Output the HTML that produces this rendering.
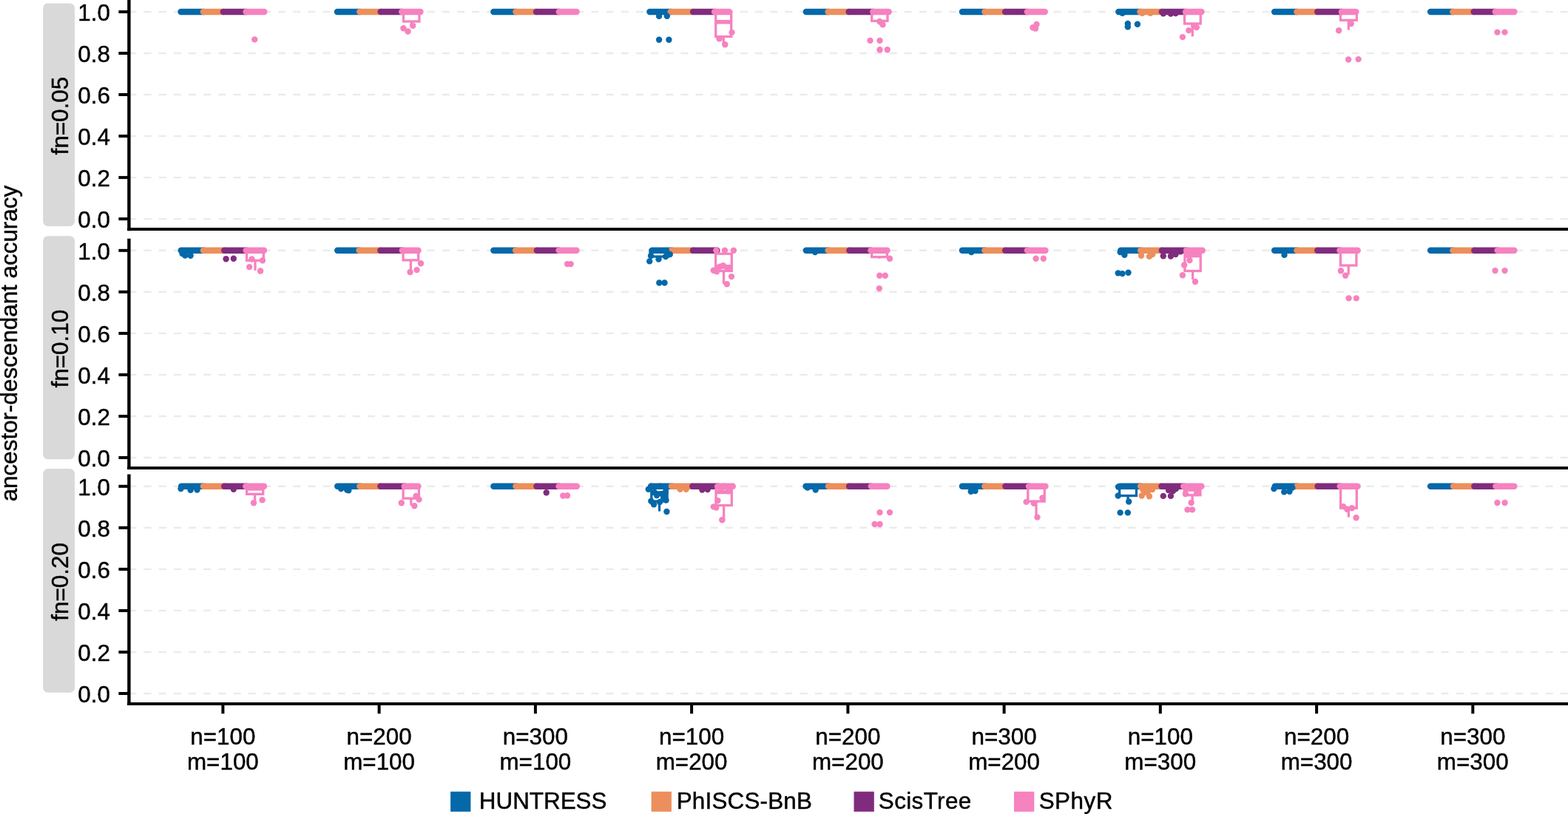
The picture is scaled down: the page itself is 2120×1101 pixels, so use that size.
<!DOCTYPE html><html><head><meta charset="utf-8"><title>ancestor-descendant accuracy</title>
<style>html,body{margin:0;padding:0;background:#fff;overflow:hidden}svg{display:block}text{font-family:"Liberation Sans", Arial, Helvetica, sans-serif;fill:#000;stroke:#000;stroke-width:0.45px}</style></head><body>
<svg width="2120" height="1101" viewBox="0 0 2120 1101">
<rect x="0" y="0" width="2120" height="1101" fill="#fff"/>
<text transform="translate(22.7,464.6) rotate(-90)" text-anchor="middle" font-size="31.4">ancestor-descendant accuracy</text>
<rect x="58.2" y="4.4" width="42.8" height="301.5" rx="6.5" ry="6.5" fill="#d9d9d9"/>
<text transform="translate(91.9,156.6) rotate(-90)" text-anchor="middle" font-size="31.4">fn=0.05</text>
<line x1="174.4" y1="296.1" x2="2120" y2="296.1" stroke="#ebebeb" stroke-width="2.4" stroke-dasharray="10.08 10.08"/>
<line x1="174.4" y1="240.1" x2="2120" y2="240.1" stroke="#ebebeb" stroke-width="2.4" stroke-dasharray="10.08 10.08"/>
<line x1="174.4" y1="184.1" x2="2120" y2="184.1" stroke="#ebebeb" stroke-width="2.4" stroke-dasharray="10.08 10.08"/>
<line x1="174.4" y1="128.0" x2="2120" y2="128.0" stroke="#ebebeb" stroke-width="2.4" stroke-dasharray="10.08 10.08"/>
<line x1="174.4" y1="72.0" x2="2120" y2="72.0" stroke="#ebebeb" stroke-width="2.4" stroke-dasharray="10.08 10.08"/>
<line x1="174.4" y1="16.0" x2="2120" y2="16.0" stroke="#ebebeb" stroke-width="2.4" stroke-dasharray="10.08 10.08"/>
<line x1="160.4" y1="296.1" x2="174.4" y2="296.1" stroke="#000" stroke-width="4"/>
<text x="148.9" y="307.9" text-anchor="end" font-size="31.4">0.0</text>
<line x1="160.4" y1="240.1" x2="174.4" y2="240.1" stroke="#000" stroke-width="4"/>
<text x="148.9" y="251.9" text-anchor="end" font-size="31.4">0.2</text>
<line x1="160.4" y1="184.1" x2="174.4" y2="184.1" stroke="#000" stroke-width="4"/>
<text x="148.9" y="195.9" text-anchor="end" font-size="31.4">0.4</text>
<line x1="160.4" y1="128.0" x2="174.4" y2="128.0" stroke="#000" stroke-width="4"/>
<text x="148.9" y="139.8" text-anchor="end" font-size="31.4">0.6</text>
<line x1="160.4" y1="72.0" x2="174.4" y2="72.0" stroke="#000" stroke-width="4"/>
<text x="148.9" y="83.8" text-anchor="end" font-size="31.4">0.8</text>
<line x1="160.4" y1="16.0" x2="174.4" y2="16.0" stroke="#000" stroke-width="4"/>
<text x="148.9" y="27.8" text-anchor="end" font-size="31.4">1.0</text>
<rect x="58.2" y="319.2" width="42.8" height="302.0" rx="6.5" ry="6.5" fill="#d9d9d9"/>
<text transform="translate(91.9,471.7) rotate(-90)" text-anchor="middle" font-size="31.4">fn=0.10</text>
<line x1="174.4" y1="619.0" x2="2120" y2="619.0" stroke="#ebebeb" stroke-width="2.4" stroke-dasharray="10.08 10.08"/>
<line x1="174.4" y1="563.0" x2="2120" y2="563.0" stroke="#ebebeb" stroke-width="2.4" stroke-dasharray="10.08 10.08"/>
<line x1="174.4" y1="506.9" x2="2120" y2="506.9" stroke="#ebebeb" stroke-width="2.4" stroke-dasharray="10.08 10.08"/>
<line x1="174.4" y1="450.9" x2="2120" y2="450.9" stroke="#ebebeb" stroke-width="2.4" stroke-dasharray="10.08 10.08"/>
<line x1="174.4" y1="394.8" x2="2120" y2="394.8" stroke="#ebebeb" stroke-width="2.4" stroke-dasharray="10.08 10.08"/>
<line x1="174.4" y1="338.8" x2="2120" y2="338.8" stroke="#ebebeb" stroke-width="2.4" stroke-dasharray="10.08 10.08"/>
<line x1="160.4" y1="619.0" x2="174.4" y2="619.0" stroke="#000" stroke-width="4"/>
<text x="148.9" y="630.8" text-anchor="end" font-size="31.4">0.0</text>
<line x1="160.4" y1="563.0" x2="174.4" y2="563.0" stroke="#000" stroke-width="4"/>
<text x="148.9" y="574.8" text-anchor="end" font-size="31.4">0.2</text>
<line x1="160.4" y1="506.9" x2="174.4" y2="506.9" stroke="#000" stroke-width="4"/>
<text x="148.9" y="518.7" text-anchor="end" font-size="31.4">0.4</text>
<line x1="160.4" y1="450.9" x2="174.4" y2="450.9" stroke="#000" stroke-width="4"/>
<text x="148.9" y="462.7" text-anchor="end" font-size="31.4">0.6</text>
<line x1="160.4" y1="394.8" x2="174.4" y2="394.8" stroke="#000" stroke-width="4"/>
<text x="148.9" y="406.6" text-anchor="end" font-size="31.4">0.8</text>
<line x1="160.4" y1="338.8" x2="174.4" y2="338.8" stroke="#000" stroke-width="4"/>
<text x="148.9" y="350.6" text-anchor="end" font-size="31.4">1.0</text>
<rect x="58.2" y="634.0" width="42.8" height="302.7" rx="6.5" ry="6.5" fill="#d9d9d9"/>
<text transform="translate(91.9,786.9) rotate(-90)" text-anchor="middle" font-size="31.4">fn=0.20</text>
<line x1="174.4" y1="938.0" x2="2120" y2="938.0" stroke="#ebebeb" stroke-width="2.4" stroke-dasharray="10.08 10.08"/>
<line x1="174.4" y1="882.0" x2="2120" y2="882.0" stroke="#ebebeb" stroke-width="2.4" stroke-dasharray="10.08 10.08"/>
<line x1="174.4" y1="825.9" x2="2120" y2="825.9" stroke="#ebebeb" stroke-width="2.4" stroke-dasharray="10.08 10.08"/>
<line x1="174.4" y1="769.9" x2="2120" y2="769.9" stroke="#ebebeb" stroke-width="2.4" stroke-dasharray="10.08 10.08"/>
<line x1="174.4" y1="713.8" x2="2120" y2="713.8" stroke="#ebebeb" stroke-width="2.4" stroke-dasharray="10.08 10.08"/>
<line x1="174.4" y1="657.8" x2="2120" y2="657.8" stroke="#ebebeb" stroke-width="2.4" stroke-dasharray="10.08 10.08"/>
<line x1="160.4" y1="938.0" x2="174.4" y2="938.0" stroke="#000" stroke-width="4"/>
<text x="148.9" y="949.8" text-anchor="end" font-size="31.4">0.0</text>
<line x1="160.4" y1="882.0" x2="174.4" y2="882.0" stroke="#000" stroke-width="4"/>
<text x="148.9" y="893.8" text-anchor="end" font-size="31.4">0.2</text>
<line x1="160.4" y1="825.9" x2="174.4" y2="825.9" stroke="#000" stroke-width="4"/>
<text x="148.9" y="837.7" text-anchor="end" font-size="31.4">0.4</text>
<line x1="160.4" y1="769.9" x2="174.4" y2="769.9" stroke="#000" stroke-width="4"/>
<text x="148.9" y="781.7" text-anchor="end" font-size="31.4">0.6</text>
<line x1="160.4" y1="713.8" x2="174.4" y2="713.8" stroke="#000" stroke-width="4"/>
<text x="148.9" y="725.6" text-anchor="end" font-size="31.4">0.8</text>
<line x1="160.4" y1="657.8" x2="174.4" y2="657.8" stroke="#000" stroke-width="4"/>
<text x="148.9" y="669.6" text-anchor="end" font-size="31.4">1.0</text>
<line x1="244.5" y1="16.0" x2="275.4" y2="16.0" stroke="#0468a9" stroke-width="8.4" stroke-linecap="round"/>
<line x1="274.9" y1="16.0" x2="302.3" y2="16.0" stroke="#ec8f5c" stroke-width="8.4" stroke-linecap="round"/>
<line x1="301.8" y1="16.0" x2="333.1" y2="16.0" stroke="#802c7e" stroke-width="8.4" stroke-linecap="round"/>
<line x1="332.6" y1="16.0" x2="357.4" y2="16.0" stroke="#f682bf" stroke-width="8.4" stroke-linecap="round"/>
<circle cx="344.3" cy="53.4" r="4.2" fill="#f682bf"/>
<line x1="455.9" y1="16.0" x2="486.8" y2="16.0" stroke="#0468a9" stroke-width="8.4" stroke-linecap="round"/>
<line x1="486.3" y1="16.0" x2="515.1" y2="16.0" stroke="#ec8f5c" stroke-width="8.4" stroke-linecap="round"/>
<line x1="514.6" y1="16.0" x2="543.7" y2="16.0" stroke="#802c7e" stroke-width="8.4" stroke-linecap="round"/>
<line x1="543.2" y1="16.0" x2="568.5" y2="16.0" stroke="#f682bf" stroke-width="8.4" stroke-linecap="round"/>
<line x1="556.2" y1="29.0" x2="556.2" y2="34.7" stroke="#f682bf" stroke-width="3.3"/>
<rect x="545.5" y="16.0" width="21.4" height="13.0" fill="none" stroke="#f682bf" stroke-width="3.3"/>
<circle cx="545.4" cy="38.2" r="4.2" fill="#f682bf"/>
<circle cx="551.5" cy="42.5" r="4.2" fill="#f682bf"/>
<circle cx="558.2" cy="34.7" r="4.2" fill="#f682bf"/>
<line x1="667.3" y1="16.0" x2="697.9" y2="16.0" stroke="#0468a9" stroke-width="8.4" stroke-linecap="round"/>
<line x1="697.4" y1="16.0" x2="725.5" y2="16.0" stroke="#ec8f5c" stroke-width="8.4" stroke-linecap="round"/>
<line x1="725.0" y1="16.0" x2="756.3" y2="16.0" stroke="#802c7e" stroke-width="8.4" stroke-linecap="round"/>
<line x1="755.8" y1="16.0" x2="779.6" y2="16.0" stroke="#f682bf" stroke-width="8.4" stroke-linecap="round"/>
<line x1="878.4" y1="16.0" x2="907.2" y2="16.0" stroke="#0468a9" stroke-width="8.4" stroke-linecap="round"/>
<line x1="906.7" y1="16.0" x2="937.6" y2="16.0" stroke="#ec8f5c" stroke-width="8.4" stroke-linecap="round"/>
<line x1="937.1" y1="16.0" x2="966.6" y2="16.0" stroke="#802c7e" stroke-width="8.4" stroke-linecap="round"/>
<line x1="966.1" y1="16.0" x2="986.0" y2="16.0" stroke="#f682bf" stroke-width="8.4" stroke-linecap="round"/>
<line x1="978.2" y1="49.5" x2="978.2" y2="60.2" stroke="#f682bf" stroke-width="3.3"/>
<rect x="967.7" y="16.0" width="21.0" height="33.5" fill="none" stroke="#f682bf" stroke-width="3.3"/>
<line x1="967.7" y1="29.7" x2="988.7" y2="29.7" stroke="#f682bf" stroke-width="5.6"/>
<circle cx="891.1" cy="21.9" r="4.2" fill="#0468a9"/>
<circle cx="901.8" cy="21.7" r="4.2" fill="#0468a9"/>
<circle cx="891.1" cy="53.8" r="4.2" fill="#0468a9"/>
<circle cx="904.4" cy="53.8" r="4.2" fill="#0468a9"/>
<circle cx="989.5" cy="43.9" r="4.2" fill="#f682bf"/>
<circle cx="972.5" cy="52.4" r="4.2" fill="#f682bf"/>
<circle cx="980.3" cy="60.2" r="4.2" fill="#f682bf"/>
<line x1="1089.8" y1="16.0" x2="1120.1" y2="16.0" stroke="#0468a9" stroke-width="8.4" stroke-linecap="round"/>
<line x1="1119.6" y1="16.0" x2="1148.1" y2="16.0" stroke="#ec8f5c" stroke-width="8.4" stroke-linecap="round"/>
<line x1="1147.6" y1="16.0" x2="1180.8" y2="16.0" stroke="#802c7e" stroke-width="8.4" stroke-linecap="round"/>
<line x1="1180.3" y1="16.0" x2="1201.7" y2="16.0" stroke="#f682bf" stroke-width="8.4" stroke-linecap="round"/>
<line x1="1189.3" y1="28.3" x2="1189.3" y2="33.4" stroke="#f682bf" stroke-width="3.3"/>
<rect x="1178.7" y="16.0" width="21.3" height="12.3" fill="none" stroke="#f682bf" stroke-width="3.3"/>
<circle cx="1193.5" cy="33.4" r="4.2" fill="#f682bf"/>
<circle cx="1189.2" cy="29.0" r="4.2" fill="#f682bf"/>
<circle cx="1176.5" cy="54.9" r="4.2" fill="#f682bf"/>
<circle cx="1189.5" cy="54.9" r="4.2" fill="#f682bf"/>
<circle cx="1189.5" cy="67.2" r="4.2" fill="#f682bf"/>
<circle cx="1199.7" cy="67.2" r="4.2" fill="#f682bf"/>
<line x1="1300.9" y1="16.0" x2="1331.9" y2="16.0" stroke="#0468a9" stroke-width="8.4" stroke-linecap="round"/>
<line x1="1331.4" y1="16.0" x2="1359.6" y2="16.0" stroke="#ec8f5c" stroke-width="8.4" stroke-linecap="round"/>
<line x1="1359.1" y1="16.0" x2="1389.4" y2="16.0" stroke="#802c7e" stroke-width="8.4" stroke-linecap="round"/>
<line x1="1388.9" y1="16.0" x2="1412.8" y2="16.0" stroke="#f682bf" stroke-width="8.4" stroke-linecap="round"/>
<circle cx="1396.5" cy="37.3" r="4.2" fill="#f682bf"/>
<circle cx="1401.5" cy="33.0" r="4.2" fill="#f682bf"/>
<circle cx="1400.0" cy="38.5" r="4.2" fill="#f682bf"/>
<line x1="1512.3" y1="16.0" x2="1541.9" y2="16.0" stroke="#0468a9" stroke-width="8.4" stroke-linecap="round"/>
<line x1="1541.4" y1="16.0" x2="1571.3" y2="16.0" stroke="#ec8f5c" stroke-width="8.4" stroke-linecap="round"/>
<line x1="1570.8" y1="16.0" x2="1603.6" y2="16.0" stroke="#802c7e" stroke-width="8.4" stroke-linecap="round"/>
<line x1="1603.1" y1="16.0" x2="1624.5" y2="16.0" stroke="#f682bf" stroke-width="8.4" stroke-linecap="round"/>
<line x1="1612.3" y1="32.0" x2="1612.3" y2="49.4" stroke="#f682bf" stroke-width="3.3"/>
<rect x="1601.5" y="16.0" width="21.7" height="16.0" fill="none" stroke="#f682bf" stroke-width="3.3"/>
<circle cx="1517.5" cy="17.8" r="4.2" fill="#0468a9"/>
<circle cx="1524.8" cy="32.0" r="4.2" fill="#0468a9"/>
<circle cx="1524.8" cy="36.3" r="4.2" fill="#0468a9"/>
<circle cx="1537.9" cy="32.7" r="4.2" fill="#0468a9"/>
<circle cx="1544.4" cy="17.8" r="4.2" fill="#ec8f5c"/>
<circle cx="1555.3" cy="17.8" r="4.2" fill="#ec8f5c"/>
<circle cx="1572.8" cy="18.3" r="4.2" fill="#802c7e"/>
<circle cx="1582.9" cy="18.5" r="4.2" fill="#802c7e"/>
<circle cx="1589.5" cy="18.0" r="4.2" fill="#802c7e"/>
<circle cx="1607.3" cy="41.1" r="4.2" fill="#f682bf"/>
<circle cx="1617.8" cy="37.1" r="4.2" fill="#f682bf"/>
<circle cx="1614.2" cy="34.9" r="4.2" fill="#f682bf"/>
<circle cx="1598.9" cy="50.1" r="4.2" fill="#f682bf"/>
<line x1="1723.1" y1="16.0" x2="1753.9" y2="16.0" stroke="#0468a9" stroke-width="8.4" stroke-linecap="round"/>
<line x1="1753.4" y1="16.0" x2="1781.7" y2="16.0" stroke="#ec8f5c" stroke-width="8.4" stroke-linecap="round"/>
<line x1="1781.2" y1="16.0" x2="1814.4" y2="16.0" stroke="#802c7e" stroke-width="8.4" stroke-linecap="round"/>
<line x1="1813.9" y1="16.0" x2="1833.3" y2="16.0" stroke="#f682bf" stroke-width="8.4" stroke-linecap="round"/>
<line x1="1823.3" y1="27.3" x2="1823.3" y2="40.5" stroke="#f682bf" stroke-width="3.3"/>
<rect x="1812.4" y="16.0" width="21.9" height="11.3" fill="none" stroke="#f682bf" stroke-width="3.3"/>
<circle cx="1810.1" cy="41.3" r="4.2" fill="#f682bf"/>
<circle cx="1826.8" cy="32.0" r="4.2" fill="#f682bf"/>
<circle cx="1823.1" cy="80.5" r="4.2" fill="#f682bf"/>
<circle cx="1836.6" cy="80.1" r="4.2" fill="#f682bf"/>
<line x1="1934.1" y1="16.0" x2="1964.8" y2="16.0" stroke="#0468a9" stroke-width="8.4" stroke-linecap="round"/>
<line x1="1964.3" y1="16.0" x2="1993.1" y2="16.0" stroke="#ec8f5c" stroke-width="8.4" stroke-linecap="round"/>
<line x1="1992.6" y1="16.0" x2="2022.2" y2="16.0" stroke="#802c7e" stroke-width="8.4" stroke-linecap="round"/>
<line x1="2021.7" y1="16.0" x2="2047.4" y2="16.0" stroke="#f682bf" stroke-width="8.4" stroke-linecap="round"/>
<circle cx="2024.4" cy="43.6" r="4.2" fill="#f682bf"/>
<circle cx="2034.5" cy="43.6" r="4.2" fill="#f682bf"/>
<line x1="244.7" y1="338.8" x2="275.4" y2="338.8" stroke="#0468a9" stroke-width="8.4" stroke-linecap="round"/>
<line x1="274.9" y1="338.8" x2="303.7" y2="338.8" stroke="#ec8f5c" stroke-width="8.4" stroke-linecap="round"/>
<line x1="303.2" y1="338.8" x2="333.2" y2="338.8" stroke="#802c7e" stroke-width="8.4" stroke-linecap="round"/>
<line x1="332.7" y1="338.8" x2="357.0" y2="338.8" stroke="#f682bf" stroke-width="8.4" stroke-linecap="round"/>
<line x1="345.0" y1="352.3" x2="345.0" y2="365.8" stroke="#f682bf" stroke-width="3.3"/>
<rect x="333.6" y="338.8" width="22.8" height="13.5" fill="none" stroke="#f682bf" stroke-width="3.3"/>
<circle cx="246.5" cy="343.0" r="4.2" fill="#0468a9"/>
<circle cx="250.3" cy="345.6" r="4.2" fill="#0468a9"/>
<circle cx="257.6" cy="345.8" r="4.2" fill="#0468a9"/>
<circle cx="305.6" cy="350.2" r="4.2" fill="#802c7e"/>
<circle cx="315.8" cy="349.8" r="4.2" fill="#802c7e"/>
<circle cx="340.5" cy="350.5" r="4.2" fill="#f682bf"/>
<circle cx="355.0" cy="352.3" r="4.2" fill="#f682bf"/>
<circle cx="337.2" cy="361.1" r="4.2" fill="#f682bf"/>
<circle cx="352.1" cy="366.5" r="4.2" fill="#f682bf"/>
<line x1="456.2" y1="338.8" x2="486.1" y2="338.8" stroke="#0468a9" stroke-width="8.4" stroke-linecap="round"/>
<line x1="485.6" y1="338.8" x2="514.8" y2="338.8" stroke="#ec8f5c" stroke-width="8.4" stroke-linecap="round"/>
<line x1="514.3" y1="338.8" x2="544.3" y2="338.8" stroke="#802c7e" stroke-width="8.4" stroke-linecap="round"/>
<line x1="543.8" y1="338.8" x2="565.5" y2="338.8" stroke="#f682bf" stroke-width="8.4" stroke-linecap="round"/>
<line x1="555.4" y1="351.9" x2="555.4" y2="369.4" stroke="#f682bf" stroke-width="3.3"/>
<rect x="545.1" y="338.8" width="20.6" height="13.1" fill="none" stroke="#f682bf" stroke-width="3.3"/>
<circle cx="554.5" cy="368.0" r="4.2" fill="#f682bf"/>
<circle cx="563.5" cy="365.1" r="4.2" fill="#f682bf"/>
<circle cx="569.0" cy="356.3" r="4.2" fill="#f682bf"/>
<line x1="667.3" y1="338.8" x2="697.6" y2="338.8" stroke="#0468a9" stroke-width="8.4" stroke-linecap="round"/>
<line x1="697.1" y1="338.8" x2="726.3" y2="338.8" stroke="#ec8f5c" stroke-width="8.4" stroke-linecap="round"/>
<line x1="725.8" y1="338.8" x2="756.1" y2="338.8" stroke="#802c7e" stroke-width="8.4" stroke-linecap="round"/>
<line x1="755.6" y1="338.8" x2="779.5" y2="338.8" stroke="#f682bf" stroke-width="8.4" stroke-linecap="round"/>
<circle cx="767.0" cy="357.1" r="4.2" fill="#f682bf"/>
<circle cx="771.7" cy="357.1" r="4.2" fill="#f682bf"/>
<line x1="881.6" y1="338.8" x2="908.3" y2="338.8" stroke="#0468a9" stroke-width="8.4" stroke-linecap="round"/>
<line x1="907.8" y1="338.8" x2="937.4" y2="338.8" stroke="#ec8f5c" stroke-width="8.4" stroke-linecap="round"/>
<line x1="936.9" y1="338.8" x2="969.4" y2="338.8" stroke="#802c7e" stroke-width="8.4" stroke-linecap="round"/>
<line x1="891.2" y1="347.0" x2="891.2" y2="350.5" stroke="#0468a9" stroke-width="3.3"/>
<rect x="879.0" y="338.8" width="24.4" height="8.2" fill="none" stroke="#0468a9" stroke-width="3.3"/>
<line x1="978.5" y1="366.5" x2="978.5" y2="384.0" stroke="#f682bf" stroke-width="3.3"/>
<rect x="967.6" y="343.2" width="21.7" height="23.3" fill="none" stroke="#f682bf" stroke-width="3.3"/>
<line x1="967.6" y1="360.7" x2="989.3" y2="360.7" stroke="#f682bf" stroke-width="5.6"/>
<circle cx="878.2" cy="353.4" r="4.2" fill="#0468a9"/>
<circle cx="890.5" cy="350.5" r="4.2" fill="#0468a9"/>
<circle cx="905.8" cy="344.0" r="4.2" fill="#0468a9"/>
<circle cx="880.0" cy="346.0" r="4.2" fill="#0468a9"/>
<circle cx="900.0" cy="347.0" r="4.2" fill="#0468a9"/>
<circle cx="891.3" cy="382.5" r="4.2" fill="#0468a9"/>
<circle cx="898.5" cy="382.5" r="4.2" fill="#0468a9"/>
<circle cx="968.3" cy="338.8" r="4.2" fill="#f682bf"/>
<circle cx="979.9" cy="338.8" r="4.2" fill="#f682bf"/>
<circle cx="991.9" cy="338.8" r="4.2" fill="#f682bf"/>
<circle cx="964.7" cy="365.8" r="4.2" fill="#f682bf"/>
<circle cx="969.0" cy="367.2" r="4.2" fill="#f682bf"/>
<circle cx="973.4" cy="360.7" r="4.2" fill="#f682bf"/>
<circle cx="977.7" cy="359.2" r="4.2" fill="#f682bf"/>
<circle cx="983.5" cy="363.6" r="4.2" fill="#f682bf"/>
<circle cx="989.0" cy="374.1" r="4.2" fill="#f682bf"/>
<circle cx="982.8" cy="384.3" r="4.2" fill="#f682bf"/>
<line x1="1089.8" y1="338.8" x2="1120.1" y2="338.8" stroke="#0468a9" stroke-width="8.4" stroke-linecap="round"/>
<line x1="1119.6" y1="338.8" x2="1148.8" y2="338.8" stroke="#ec8f5c" stroke-width="8.4" stroke-linecap="round"/>
<line x1="1148.3" y1="338.8" x2="1177.9" y2="338.8" stroke="#802c7e" stroke-width="8.4" stroke-linecap="round"/>
<line x1="1177.4" y1="338.8" x2="1199.5" y2="338.8" stroke="#f682bf" stroke-width="8.4" stroke-linecap="round"/>
<line x1="1189.0" y1="347.6" x2="1189.0" y2="349.8" stroke="#f682bf" stroke-width="3.3"/>
<rect x="1178.7" y="338.8" width="20.6" height="8.8" fill="none" stroke="#f682bf" stroke-width="3.3"/>
<circle cx="1102.0" cy="341.1" r="4.2" fill="#0468a9"/>
<circle cx="1203.0" cy="349.8" r="4.2" fill="#f682bf"/>
<circle cx="1189.2" cy="372.7" r="4.2" fill="#f682bf"/>
<circle cx="1196.8" cy="372.7" r="4.2" fill="#f682bf"/>
<circle cx="1188.8" cy="390.1" r="4.2" fill="#f682bf"/>
<line x1="1300.9" y1="338.8" x2="1331.9" y2="338.8" stroke="#0468a9" stroke-width="8.4" stroke-linecap="round"/>
<line x1="1331.4" y1="338.8" x2="1359.6" y2="338.8" stroke="#ec8f5c" stroke-width="8.4" stroke-linecap="round"/>
<line x1="1359.1" y1="338.8" x2="1389.4" y2="338.8" stroke="#802c7e" stroke-width="8.4" stroke-linecap="round"/>
<line x1="1388.9" y1="338.8" x2="1413.5" y2="338.8" stroke="#f682bf" stroke-width="8.4" stroke-linecap="round"/>
<circle cx="1313.4" cy="341.0" r="4.2" fill="#0468a9"/>
<circle cx="1400.6" cy="349.8" r="4.2" fill="#f682bf"/>
<circle cx="1410.8" cy="349.8" r="4.2" fill="#f682bf"/>
<line x1="1515.2" y1="338.8" x2="1542.6" y2="338.8" stroke="#0468a9" stroke-width="8.4" stroke-linecap="round"/>
<line x1="1542.1" y1="338.8" x2="1571.3" y2="338.8" stroke="#ec8f5c" stroke-width="8.4" stroke-linecap="round"/>
<line x1="1570.8" y1="338.8" x2="1604.4" y2="338.8" stroke="#802c7e" stroke-width="8.4" stroke-linecap="round"/>
<line x1="1603.9" y1="338.8" x2="1623.8" y2="338.8" stroke="#f682bf" stroke-width="8.4" stroke-linecap="round"/>
<line x1="1612.6" y1="366.5" x2="1612.6" y2="378.0" stroke="#f682bf" stroke-width="3.3"/>
<rect x="1601.9" y="338.8" width="21.3" height="27.7" fill="none" stroke="#f682bf" stroke-width="3.3"/>
<line x1="1601.9" y1="345.5" x2="1623.2" y2="345.5" stroke="#f682bf" stroke-width="5.6"/>
<circle cx="1514.6" cy="341.1" r="4.2" fill="#0468a9"/>
<circle cx="1520.4" cy="344.7" r="4.2" fill="#0468a9"/>
<circle cx="1511.7" cy="369.4" r="4.2" fill="#0468a9"/>
<circle cx="1517.5" cy="370.1" r="4.2" fill="#0468a9"/>
<circle cx="1525.5" cy="368.7" r="4.2" fill="#0468a9"/>
<circle cx="1543.0" cy="345.8" r="4.2" fill="#ec8f5c"/>
<circle cx="1553.9" cy="346.9" r="4.2" fill="#ec8f5c"/>
<circle cx="1558.2" cy="344.0" r="4.2" fill="#ec8f5c"/>
<circle cx="1572.8" cy="346.2" r="4.2" fill="#802c7e"/>
<circle cx="1582.9" cy="346.5" r="4.2" fill="#802c7e"/>
<circle cx="1589.5" cy="344.0" r="4.2" fill="#802c7e"/>
<circle cx="1596.0" cy="340.3" r="4.2" fill="#802c7e"/>
<circle cx="1604.7" cy="338.8" r="4.2" fill="#f682bf"/>
<circle cx="1625.8" cy="338.8" r="4.2" fill="#f682bf"/>
<circle cx="1608.4" cy="352.0" r="4.2" fill="#f682bf"/>
<circle cx="1601.1" cy="358.5" r="4.2" fill="#f682bf"/>
<circle cx="1598.9" cy="372.3" r="4.2" fill="#f682bf"/>
<circle cx="1616.0" cy="381.0" r="4.2" fill="#f682bf"/>
<circle cx="1606.0" cy="345.0" r="4.2" fill="#f682bf"/>
<circle cx="1618.0" cy="344.0" r="4.2" fill="#f682bf"/>
<line x1="1723.1" y1="338.8" x2="1753.9" y2="338.8" stroke="#0468a9" stroke-width="8.4" stroke-linecap="round"/>
<line x1="1753.4" y1="338.8" x2="1781.7" y2="338.8" stroke="#ec8f5c" stroke-width="8.4" stroke-linecap="round"/>
<line x1="1781.2" y1="338.8" x2="1811.9" y2="338.8" stroke="#802c7e" stroke-width="8.4" stroke-linecap="round"/>
<line x1="1811.4" y1="338.8" x2="1835.7" y2="338.8" stroke="#f682bf" stroke-width="8.4" stroke-linecap="round"/>
<line x1="1823.2" y1="359.0" x2="1823.2" y2="371.5" stroke="#f682bf" stroke-width="3.3"/>
<rect x="1812.4" y="338.8" width="21.5" height="20.2" fill="none" stroke="#f682bf" stroke-width="3.3"/>
<circle cx="1736.5" cy="344.9" r="4.2" fill="#0468a9"/>
<circle cx="1812.9" cy="366.2" r="4.2" fill="#f682bf"/>
<circle cx="1819.1" cy="372.7" r="4.2" fill="#f682bf"/>
<circle cx="1823.6" cy="403.4" r="4.2" fill="#f682bf"/>
<circle cx="1833.8" cy="403.4" r="4.2" fill="#f682bf"/>
<line x1="1934.1" y1="338.8" x2="1964.8" y2="338.8" stroke="#0468a9" stroke-width="8.4" stroke-linecap="round"/>
<line x1="1964.3" y1="338.8" x2="1993.8" y2="338.8" stroke="#ec8f5c" stroke-width="8.4" stroke-linecap="round"/>
<line x1="1993.3" y1="338.8" x2="2025.1" y2="338.8" stroke="#802c7e" stroke-width="8.4" stroke-linecap="round"/>
<line x1="2024.6" y1="338.8" x2="2047.4" y2="338.8" stroke="#f682bf" stroke-width="8.4" stroke-linecap="round"/>
<circle cx="2021.5" cy="366.1" r="4.2" fill="#f682bf"/>
<circle cx="2034.5" cy="366.1" r="4.2" fill="#f682bf"/>
<line x1="245.1" y1="657.8" x2="275.4" y2="657.8" stroke="#0468a9" stroke-width="8.4" stroke-linecap="round"/>
<line x1="274.9" y1="657.8" x2="303.7" y2="657.8" stroke="#ec8f5c" stroke-width="8.4" stroke-linecap="round"/>
<line x1="303.2" y1="657.8" x2="332.8" y2="657.8" stroke="#802c7e" stroke-width="8.4" stroke-linecap="round"/>
<line x1="332.3" y1="657.8" x2="357.0" y2="657.8" stroke="#f682bf" stroke-width="8.4" stroke-linecap="round"/>
<line x1="344.6" y1="668.3" x2="344.6" y2="680.7" stroke="#f682bf" stroke-width="3.3"/>
<rect x="333.6" y="662.0" width="22.1" height="6.3" fill="none" stroke="#f682bf" stroke-width="3.3"/>
<circle cx="244.5" cy="661.1" r="4.2" fill="#0468a9"/>
<circle cx="257.6" cy="662.9" r="4.2" fill="#0468a9"/>
<circle cx="266.5" cy="662.5" r="4.2" fill="#0468a9"/>
<circle cx="315.8" cy="661.8" r="4.2" fill="#802c7e"/>
<circle cx="343.0" cy="680.3" r="4.2" fill="#f682bf"/>
<circle cx="354.6" cy="676.3" r="4.2" fill="#f682bf"/>
<line x1="456.2" y1="657.8" x2="486.9" y2="657.8" stroke="#0468a9" stroke-width="8.4" stroke-linecap="round"/>
<line x1="486.4" y1="657.8" x2="514.8" y2="657.8" stroke="#ec8f5c" stroke-width="8.4" stroke-linecap="round"/>
<line x1="514.3" y1="657.8" x2="547.2" y2="657.8" stroke="#802c7e" stroke-width="8.4" stroke-linecap="round"/>
<line x1="546.7" y1="657.8" x2="565.5" y2="657.8" stroke="#f682bf" stroke-width="8.4" stroke-linecap="round"/>
<line x1="555.8" y1="674.1" x2="555.8" y2="683.6" stroke="#f682bf" stroke-width="3.3"/>
<rect x="545.1" y="657.8" width="21.3" height="16.3" fill="none" stroke="#f682bf" stroke-width="3.3"/>
<circle cx="461.1" cy="661.1" r="4.2" fill="#0468a9"/>
<circle cx="469.1" cy="662.5" r="4.2" fill="#0468a9"/>
<circle cx="471.3" cy="663.3" r="4.2" fill="#0468a9"/>
<circle cx="542.8" cy="680.3" r="4.2" fill="#f682bf"/>
<circle cx="560.3" cy="684.3" r="4.2" fill="#f682bf"/>
<circle cx="566.5" cy="675.6" r="4.2" fill="#f682bf"/>
<circle cx="562.5" cy="671.0" r="4.2" fill="#f682bf"/>
<line x1="667.3" y1="657.8" x2="697.9" y2="657.8" stroke="#0468a9" stroke-width="8.4" stroke-linecap="round"/>
<line x1="697.4" y1="657.8" x2="725.9" y2="657.8" stroke="#ec8f5c" stroke-width="8.4" stroke-linecap="round"/>
<line x1="725.4" y1="657.8" x2="756.1" y2="657.8" stroke="#802c7e" stroke-width="8.4" stroke-linecap="round"/>
<line x1="755.6" y1="657.8" x2="779.9" y2="657.8" stroke="#f682bf" stroke-width="8.4" stroke-linecap="round"/>
<circle cx="738.7" cy="666.2" r="4.2" fill="#802c7e"/>
<circle cx="761.2" cy="670.5" r="4.2" fill="#f682bf"/>
<circle cx="767.0" cy="670.2" r="4.2" fill="#f682bf"/>
<line x1="880.2" y1="657.8" x2="908.3" y2="657.8" stroke="#0468a9" stroke-width="8.4" stroke-linecap="round"/>
<line x1="907.8" y1="657.8" x2="936.7" y2="657.8" stroke="#ec8f5c" stroke-width="8.4" stroke-linecap="round"/>
<line x1="936.2" y1="657.8" x2="970.8" y2="657.8" stroke="#802c7e" stroke-width="8.4" stroke-linecap="round"/>
<line x1="970.3" y1="657.8" x2="989.8" y2="657.8" stroke="#f682bf" stroke-width="8.4" stroke-linecap="round"/>
<line x1="891.5" y1="678.0" x2="891.5" y2="691.6" stroke="#0468a9" stroke-width="3.3"/>
<rect x="880.8" y="659.5" width="21.3" height="18.5" fill="none" stroke="#0468a9" stroke-width="3.3"/>
<line x1="880.8" y1="667.0" x2="902.1" y2="667.0" stroke="#0468a9" stroke-width="5.6"/>
<line x1="978.6" y1="683.5" x2="978.6" y2="704.7" stroke="#f682bf" stroke-width="3.3"/>
<rect x="968.0" y="657.8" width="21.3" height="25.7" fill="none" stroke="#f682bf" stroke-width="3.3"/>
<line x1="968.0" y1="665.5" x2="989.3" y2="665.5" stroke="#f682bf" stroke-width="5.6"/>
<circle cx="876.7" cy="661.8" r="4.2" fill="#0468a9"/>
<circle cx="880.3" cy="657.8" r="4.2" fill="#0468a9"/>
<circle cx="892.7" cy="657.8" r="4.2" fill="#0468a9"/>
<circle cx="885.0" cy="666.0" r="4.2" fill="#0468a9"/>
<circle cx="895.0" cy="668.0" r="4.2" fill="#0468a9"/>
<circle cx="900.0" cy="665.0" r="4.2" fill="#0468a9"/>
<circle cx="880.3" cy="677.8" r="4.2" fill="#0468a9"/>
<circle cx="884.0" cy="682.2" r="4.2" fill="#0468a9"/>
<circle cx="888.0" cy="670.0" r="4.2" fill="#0468a9"/>
<circle cx="901.4" cy="692.0" r="4.2" fill="#0468a9"/>
<circle cx="897.0" cy="673.0" r="4.2" fill="#0468a9"/>
<circle cx="900.5" cy="676.5" r="4.2" fill="#0468a9"/>
<circle cx="892.0" cy="679.0" r="4.2" fill="#0468a9"/>
<circle cx="899.0" cy="669.0" r="4.2" fill="#0468a9"/>
<circle cx="919.6" cy="661.8" r="4.2" fill="#ec8f5c"/>
<circle cx="927.6" cy="661.8" r="4.2" fill="#ec8f5c"/>
<circle cx="949.4" cy="662.5" r="4.2" fill="#802c7e"/>
<circle cx="956.7" cy="662.0" r="4.2" fill="#802c7e"/>
<circle cx="979.2" cy="657.8" r="4.2" fill="#f682bf"/>
<circle cx="990.8" cy="657.8" r="4.2" fill="#f682bf"/>
<circle cx="975.0" cy="663.0" r="4.2" fill="#f682bf"/>
<circle cx="985.0" cy="664.0" r="4.2" fill="#f682bf"/>
<circle cx="970.5" cy="677.1" r="4.2" fill="#f682bf"/>
<circle cx="964.7" cy="685.4" r="4.2" fill="#f682bf"/>
<circle cx="968.3" cy="686.5" r="4.2" fill="#f682bf"/>
<circle cx="976.3" cy="703.2" r="4.2" fill="#f682bf"/>
<line x1="1089.5" y1="657.8" x2="1120.5" y2="657.8" stroke="#0468a9" stroke-width="8.4" stroke-linecap="round"/>
<line x1="1120.0" y1="657.8" x2="1148.5" y2="657.8" stroke="#ec8f5c" stroke-width="8.4" stroke-linecap="round"/>
<line x1="1148.0" y1="657.8" x2="1178.3" y2="657.8" stroke="#802c7e" stroke-width="8.4" stroke-linecap="round"/>
<line x1="1177.8" y1="657.8" x2="1199.5" y2="657.8" stroke="#f682bf" stroke-width="8.4" stroke-linecap="round"/>
<circle cx="1091.8" cy="659.6" r="4.2" fill="#0468a9"/>
<circle cx="1102.7" cy="662.5" r="4.2" fill="#0468a9"/>
<circle cx="1189.5" cy="693.1" r="4.2" fill="#f682bf"/>
<circle cx="1203.0" cy="693.1" r="4.2" fill="#f682bf"/>
<circle cx="1182.6" cy="709.0" r="4.2" fill="#f682bf"/>
<circle cx="1189.5" cy="709.0" r="4.2" fill="#f682bf"/>
<line x1="1300.9" y1="657.8" x2="1331.9" y2="657.8" stroke="#0468a9" stroke-width="8.4" stroke-linecap="round"/>
<line x1="1331.4" y1="657.8" x2="1359.9" y2="657.8" stroke="#ec8f5c" stroke-width="8.4" stroke-linecap="round"/>
<line x1="1359.4" y1="657.8" x2="1391.5" y2="657.8" stroke="#802c7e" stroke-width="8.4" stroke-linecap="round"/>
<line x1="1391.0" y1="657.8" x2="1413.5" y2="657.8" stroke="#f682bf" stroke-width="8.4" stroke-linecap="round"/>
<line x1="1401.0" y1="678.1" x2="1401.0" y2="699.6" stroke="#f682bf" stroke-width="3.3"/>
<rect x="1389.8" y="657.8" width="22.4" height="20.3" fill="none" stroke="#f682bf" stroke-width="3.3"/>
<circle cx="1312.7" cy="664.7" r="4.2" fill="#0468a9"/>
<circle cx="1318.5" cy="664.0" r="4.2" fill="#0468a9"/>
<circle cx="1387.6" cy="678.9" r="4.2" fill="#f682bf"/>
<circle cx="1402.5" cy="699.6" r="4.2" fill="#f682bf"/>
<circle cx="1409.4" cy="673.4" r="4.2" fill="#f682bf"/>
<circle cx="1397.7" cy="680.7" r="4.2" fill="#f682bf"/>
<line x1="1514.2" y1="657.8" x2="1542.6" y2="657.8" stroke="#0468a9" stroke-width="8.4" stroke-linecap="round"/>
<line x1="1542.1" y1="657.8" x2="1570.9" y2="657.8" stroke="#ec8f5c" stroke-width="8.4" stroke-linecap="round"/>
<line x1="1570.4" y1="657.8" x2="1600.7" y2="657.8" stroke="#802c7e" stroke-width="8.4" stroke-linecap="round"/>
<line x1="1600.2" y1="657.8" x2="1624.5" y2="657.8" stroke="#f682bf" stroke-width="8.4" stroke-linecap="round"/>
<line x1="1525.0" y1="670.5" x2="1525.0" y2="678.5" stroke="#0468a9" stroke-width="3.3"/>
<rect x="1513.6" y="660.0" width="22.8" height="10.5" fill="none" stroke="#0468a9" stroke-width="3.3"/>
<line x1="1612.1" y1="669.7" x2="1612.1" y2="680.0" stroke="#f682bf" stroke-width="3.3"/>
<rect x="1601.2" y="657.8" width="21.7" height="11.9" fill="none" stroke="#f682bf" stroke-width="3.3"/>
<line x1="1601.2" y1="662.0" x2="1622.9" y2="662.0" stroke="#f682bf" stroke-width="5.6"/>
<circle cx="1512.0" cy="658.5" r="4.2" fill="#0468a9"/>
<circle cx="1511.7" cy="670.5" r="4.2" fill="#0468a9"/>
<circle cx="1526.2" cy="678.5" r="4.2" fill="#0468a9"/>
<circle cx="1514.6" cy="693.4" r="4.2" fill="#0468a9"/>
<circle cx="1524.8" cy="693.4" r="4.2" fill="#0468a9"/>
<circle cx="1545.0" cy="662.0" r="4.2" fill="#ec8f5c"/>
<circle cx="1552.0" cy="664.5" r="4.2" fill="#ec8f5c"/>
<circle cx="1558.0" cy="662.0" r="4.2" fill="#ec8f5c"/>
<circle cx="1548.0" cy="666.0" r="4.2" fill="#ec8f5c"/>
<circle cx="1543.7" cy="670.5" r="4.2" fill="#ec8f5c"/>
<circle cx="1553.9" cy="671.2" r="4.2" fill="#ec8f5c"/>
<circle cx="1580.0" cy="663.0" r="4.2" fill="#802c7e"/>
<circle cx="1586.0" cy="664.0" r="4.2" fill="#802c7e"/>
<circle cx="1590.0" cy="661.0" r="4.2" fill="#802c7e"/>
<circle cx="1572.8" cy="670.9" r="4.2" fill="#802c7e"/>
<circle cx="1582.9" cy="670.9" r="4.2" fill="#802c7e"/>
<circle cx="1610.6" cy="680.0" r="4.2" fill="#f682bf"/>
<circle cx="1605.5" cy="689.4" r="4.2" fill="#f682bf"/>
<circle cx="1612.0" cy="689.4" r="4.2" fill="#f682bf"/>
<circle cx="1618.0" cy="667.0" r="4.2" fill="#f682bf"/>
<circle cx="1603.0" cy="668.0" r="4.2" fill="#f682bf"/>
<line x1="1723.7" y1="657.8" x2="1754.0" y2="657.8" stroke="#0468a9" stroke-width="8.4" stroke-linecap="round"/>
<line x1="1753.5" y1="657.8" x2="1782.0" y2="657.8" stroke="#ec8f5c" stroke-width="8.4" stroke-linecap="round"/>
<line x1="1781.5" y1="657.8" x2="1812.2" y2="657.8" stroke="#802c7e" stroke-width="8.4" stroke-linecap="round"/>
<line x1="1811.7" y1="657.8" x2="1835.6" y2="657.8" stroke="#f682bf" stroke-width="8.4" stroke-linecap="round"/>
<line x1="1823.4" y1="687.2" x2="1823.4" y2="699.6" stroke="#f682bf" stroke-width="3.3"/>
<rect x="1812.6" y="657.8" width="21.7" height="29.4" fill="none" stroke="#f682bf" stroke-width="3.3"/>
<circle cx="1722.4" cy="661.1" r="4.2" fill="#0468a9"/>
<circle cx="1736.2" cy="665.4" r="4.2" fill="#0468a9"/>
<circle cx="1743.5" cy="664.7" r="4.2" fill="#0468a9"/>
<circle cx="1747.2" cy="659.6" r="4.2" fill="#0468a9"/>
<circle cx="1816.2" cy="685.1" r="4.2" fill="#f682bf"/>
<circle cx="1821.3" cy="688.7" r="4.2" fill="#f682bf"/>
<circle cx="1827.8" cy="687.2" r="4.2" fill="#f682bf"/>
<circle cx="1833.6" cy="700.3" r="4.2" fill="#f682bf"/>
<line x1="1934.1" y1="657.8" x2="1965.5" y2="657.8" stroke="#0468a9" stroke-width="8.4" stroke-linecap="round"/>
<line x1="1965.0" y1="657.8" x2="1993.8" y2="657.8" stroke="#ec8f5c" stroke-width="8.4" stroke-linecap="round"/>
<line x1="1993.3" y1="657.8" x2="2022.9" y2="657.8" stroke="#802c7e" stroke-width="8.4" stroke-linecap="round"/>
<line x1="2022.4" y1="657.8" x2="2047.4" y2="657.8" stroke="#f682bf" stroke-width="8.4" stroke-linecap="round"/>
<circle cx="2024.4" cy="680.0" r="4.2" fill="#f682bf"/>
<circle cx="2034.5" cy="680.0" r="4.2" fill="#f682bf"/>
<line x1="174.4" y1="-5" x2="174.4" y2="312.2" stroke="#000" stroke-width="4.4"/>
<line x1="172.2" y1="310.1" x2="2120" y2="310.1" stroke="#000" stroke-width="4"/>
<line x1="174.4" y1="322.7" x2="174.4" y2="635.0" stroke="#000" stroke-width="4.4"/>
<line x1="172.2" y1="632.9" x2="2120" y2="632.9" stroke="#000" stroke-width="4"/>
<line x1="174.4" y1="641.6" x2="174.4" y2="954.0" stroke="#000" stroke-width="4.4"/>
<line x1="172.2" y1="951.9" x2="2120" y2="951.9" stroke="#000" stroke-width="4"/>
<line x1="301.4" y1="952" x2="301.4" y2="965.3" stroke="#000" stroke-width="4"/>
<text x="301.4" y="1007.4" text-anchor="middle" font-size="31.4">n=100</text>
<text x="301.4" y="1041.1" text-anchor="middle" font-size="31.4">m=100</text>
<line x1="512.6" y1="952" x2="512.6" y2="965.3" stroke="#000" stroke-width="4"/>
<text x="512.6" y="1007.4" text-anchor="middle" font-size="31.4">n=200</text>
<text x="512.6" y="1041.1" text-anchor="middle" font-size="31.4">m=100</text>
<line x1="723.9" y1="952" x2="723.9" y2="965.3" stroke="#000" stroke-width="4"/>
<text x="723.9" y="1007.4" text-anchor="middle" font-size="31.4">n=300</text>
<text x="723.9" y="1041.1" text-anchor="middle" font-size="31.4">m=100</text>
<line x1="935.1" y1="952" x2="935.1" y2="965.3" stroke="#000" stroke-width="4"/>
<text x="935.1" y="1007.4" text-anchor="middle" font-size="31.4">n=100</text>
<text x="935.1" y="1041.1" text-anchor="middle" font-size="31.4">m=200</text>
<line x1="1146.4" y1="952" x2="1146.4" y2="965.3" stroke="#000" stroke-width="4"/>
<text x="1146.4" y="1007.4" text-anchor="middle" font-size="31.4">n=200</text>
<text x="1146.4" y="1041.1" text-anchor="middle" font-size="31.4">m=200</text>
<line x1="1357.6" y1="952" x2="1357.6" y2="965.3" stroke="#000" stroke-width="4"/>
<text x="1357.6" y="1007.4" text-anchor="middle" font-size="31.4">n=300</text>
<text x="1357.6" y="1041.1" text-anchor="middle" font-size="31.4">m=200</text>
<line x1="1568.8" y1="952" x2="1568.8" y2="965.3" stroke="#000" stroke-width="4"/>
<text x="1568.8" y="1007.4" text-anchor="middle" font-size="31.4">n=100</text>
<text x="1568.8" y="1041.1" text-anchor="middle" font-size="31.4">m=300</text>
<line x1="1780.1" y1="952" x2="1780.1" y2="965.3" stroke="#000" stroke-width="4"/>
<text x="1780.1" y="1007.4" text-anchor="middle" font-size="31.4">n=200</text>
<text x="1780.1" y="1041.1" text-anchor="middle" font-size="31.4">m=300</text>
<line x1="1991.3" y1="952" x2="1991.3" y2="965.3" stroke="#000" stroke-width="4"/>
<text x="1991.3" y="1007.4" text-anchor="middle" font-size="31.4">n=300</text>
<text x="1991.3" y="1041.1" text-anchor="middle" font-size="31.4">m=300</text>
<rect x="609.1" y="1070.7" width="27.3" height="27.1" fill="#0468a9"/>
<text x="647.8" y="1094.2" font-size="31.4">HUNTRESS</text>
<rect x="880.6" y="1070.7" width="27.3" height="27.1" fill="#ec8f5c"/>
<text x="914.7" y="1094.2" font-size="31.4" letter-spacing="0.2">PhISCS-BnB</text>
<rect x="1154.5" y="1070.7" width="27.3" height="27.1" fill="#802c7e"/>
<text x="1187.8" y="1094.2" font-size="31.4" letter-spacing="0.4">ScisTree</text>
<rect x="1371.0" y="1070.7" width="27.3" height="27.1" fill="#f682bf"/>
<text x="1404.7" y="1094.2" font-size="31.4" letter-spacing="0.5">SPhyR</text>
</svg></body></html>
